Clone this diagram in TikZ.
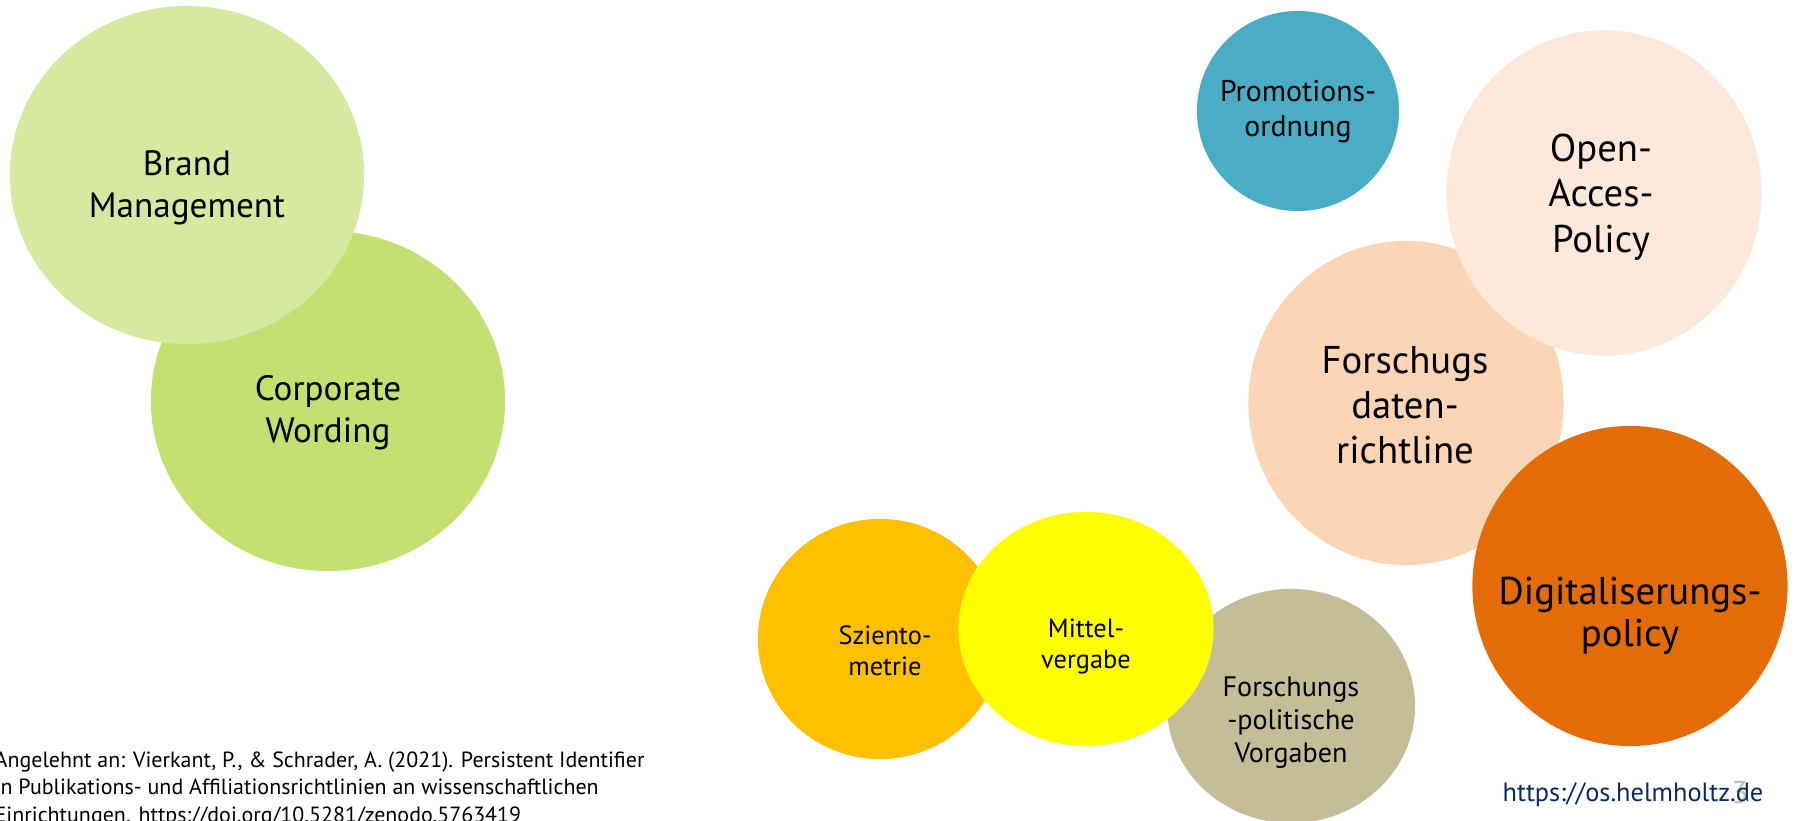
\documentclass[tikz,border=0pt]{standalone}
\usepackage{fontspec}
\setmainfont{PT Sans}
\usetikzlibrary{shapes.geometric}

\definecolor{brandgreen}{HTML}{D7E9A0}
\definecolor{wordgreen}{HTML}{C3E170}
\definecolor{promoblue}{HTML}{4BACC6}
\definecolor{oapeach}{HTML}{FDE9D9}
\definecolor{fdpeach}{HTML}{FBD5B5}
\definecolor{digiorange}{HTML}{E36C09}
\definecolor{szientgold}{HTML}{FFC000}
\definecolor{mittelyellow}{HTML}{FFFF00}
\definecolor{vorgabentan}{HTML}{C4BD97}
\definecolor{urlblue}{HTML}{0A2A66}

\tikzset{
  bubble/.style={ellipse, draw=none, inner sep=0pt},
  lbl/.style={align=center, text=black, inner sep=0pt},
}

\begin{document}
\begin{tikzpicture}[x=0.01cm,y=-0.01cm]
\useasboundingbox (0,0) rectangle (1796,821);
\clip (0,0) rectangle (1796,821);
\fill[white] (0,0) rectangle (1796,821);

% left group
\node[bubble,fill=wordgreen,minimum width=3.54cm,minimum height=3.40cm] (wording) at (328,401) {};
\node[bubble,fill=brandgreen,minimum width=3.54cm,minimum height=3.38cm] (brand) at (187,175) {};
\node[lbl,font=\fontsize{10}{12}\selectfont] (brand-t) at (187,188) {Brand\\Management};
\node[lbl,font=\fontsize{10}{12}\selectfont] (wording-t) at (328,413) {Corporate\\Wording};

% right group
\node[bubble,fill=promoblue,minimum width=2.02cm,minimum height=2.00cm] (promo) at (1298,111) {};
\node[lbl,font=\fontsize{8.5}{10}\selectfont] (promo-t) at (1298,112) {Promotions-\\ordnung};

\node[bubble,fill=fdpeach,minimum width=3.15cm,minimum height=3.24cm] (fdr) at (1406,403) {};
\node[bubble,fill=oapeach,minimum width=3.15cm,minimum height=3.25cm] (oa) at (1604,193) {};
\node[bubble,fill=digiorange,minimum width=3.15cm,minimum height=3.20cm] (digi) at (1630,586) {};
\node[lbl,font=\fontsize{11}{13}\selectfont] (oa-t) at (1601,197) {Open-\\Acces-\\Policy};
\node[lbl,font=\fontsize{11}{12.8}\selectfont] (fdr-t) at (1405,405) {Forschugs\\daten-\\richtline};
\node[lbl,font=\fontsize{11}{12}\selectfont] (digi-t) at (1630,616) {Digitaliserungs-\\policy};

% bottom group
\node[bubble,fill=szientgold,minimum width=2.44cm,minimum height=2.40cm] (szient) at (880,639) {};
\node[bubble,fill=vorgabentan,minimum width=2.48cm,minimum height=2.34cm] (vorgaben) at (1291,706) {};
\node[bubble,fill=mittelyellow,minimum width=2.55cm,minimum height=2.34cm] (mittel) at (1086,629) {};
\node[lbl,font=\fontsize{7.5}{8.8}\selectfont] (szient-t) at (885,651) {Sziento-\\metrie};
\node[lbl,font=\fontsize{7.5}{8.8}\selectfont] (mittel-t) at (1086,646) {Mittel-\\vergabe};
\node[lbl,font=\fontsize{8}{9.4}\selectfont] (vorgaben-t) at (1291,723) {Forschungs\\-politische\\Vorgaben};

% footer
\node[align=left,anchor=north west,inner sep=0pt,font=\fontsize{6.25}{7.8}\selectfont] (quelle) at (-6,751)
  {Angelehnt an: Vierkant, P., \& Schrader, A. (2021). Persistent Identifier\\
   in Publikations- und Affiliationsrichtlinien an wissenschaftlichen\\
   Einrichtungen. https://doi.org/10.5281/zenodo.5763419};
\node[inner sep=0pt,text=black!25,font=\fontsize{9}{10}\selectfont] (seite) at (1740,793) {3};
\node[inner sep=0pt,text=urlblue,font=\fontsize{7.5}{9}\selectfont] (url) at (1633,795) {https://os.helmholtz.de};

\end{tikzpicture}
\end{document}
